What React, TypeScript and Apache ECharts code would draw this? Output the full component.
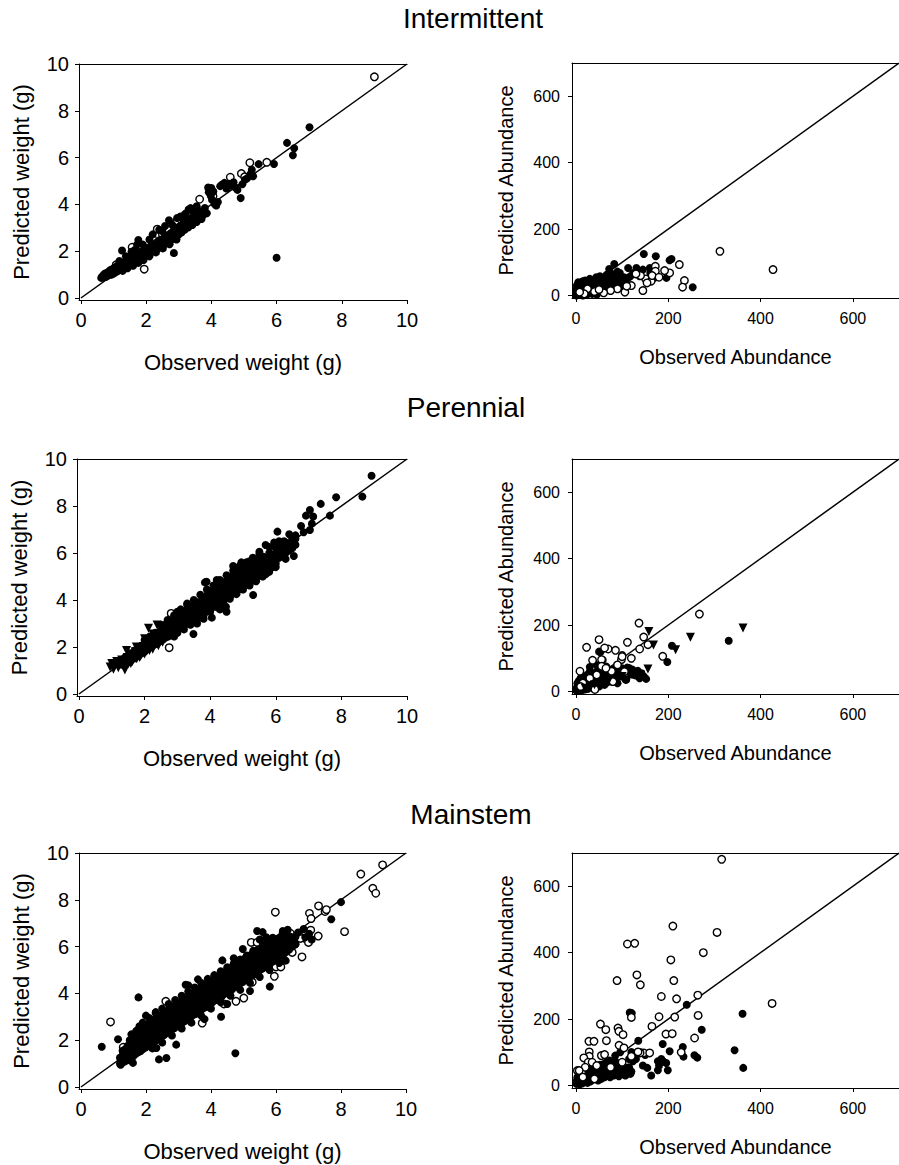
import React, { useEffect, useRef } from "react";
import * as echarts from "echarts";

const FONT = "'Liberation Sans', Arial, Helvetica, sans-serif";

type Pt = [number, number];

// ---------- tick values ----------
const weightTicks = [0, 2, 4, 6, 8, 10];
const abundTicks = [0, 200, 400, 600];

// ---------- titles / axis names ----------
const rowTitles = ["Intermittent", "Perennial", "Mainstem"];
const weightNames = ["Observed weight (g)", "Predicted weight (g)"];
const abundNames = ["Observed Abundance", "Predicted Abundance"];

// ---------- Intermittent: weight ----------
const intWeightFilled: Pt[] = [
  [0.62,0.86],[0.65,0.92],[0.68,0.87],[0.7,1.0],[0.72,0.93],[0.74,1.05],[0.76,0.9],[0.78,0.98],[0.8,1.08],[0.82,0.95],
  [0.84,1.02],[0.86,1.14],[0.88,0.99],[0.9,1.07],[0.92,1.2],[0.94,1.0],[0.96,1.12],[0.98,1.25],[1.0,1.05],[1.02,1.17],
  [1.04,1.3],[1.06,1.1],[1.08,1.22],[1.1,1.36],[1.12,1.14],[1.14,1.27],[1.16,1.42],[1.18,1.2],[1.2,1.33],[1.22,1.48],
  [1.24,1.25],[1.26,1.38],[1.28,1.16],[1.3,1.52],[1.32,1.3],[1.34,1.43],[1.37,1.58],[1.39,1.36],[1.41,1.49],[1.43,1.27],
  [1.46,1.63],[1.48,1.42],[1.5,1.55],[1.53,1.7],[1.55,1.47],[1.57,1.6],[1.6,1.38],[1.62,1.76],[1.64,1.53],[1.67,1.66],
  [1.69,1.83],[1.71,1.58],[1.74,1.72],[1.76,1.5],[1.78,1.9],[1.8,1.65],[1.83,1.79],[1.85,1.97],[1.87,1.7],[1.9,1.84],
  [1.92,1.62],[1.95,2.04],[1.97,1.78],[2.0,1.92],[2.03,2.12],[2.05,1.85],[2.08,2.0],[2.1,1.78],[2.13,2.2],[2.16,1.95],
  [2.19,2.08],[2.22,2.3],[2.24,2.02],[2.27,2.17],[2.3,1.95],[2.33,2.38],[2.36,2.12],[2.39,2.27],[2.42,2.48],[2.45,2.2],
  [2.48,2.36],[2.51,2.12],[2.54,2.57],[2.57,2.3],[2.6,2.45],[2.63,2.67],[2.66,2.4],[2.69,2.55],[2.72,2.3],[2.75,2.77],
  [2.78,2.5],[2.81,2.65],[2.84,2.88],[2.87,2.6],[2.9,2.74],[2.93,2.5],[2.96,2.97],[2.99,2.7],[3.02,2.85],[3.05,3.1],
  [3.08,2.8],[3.11,2.95],[3.14,3.2],[3.18,2.92],[3.22,3.07],[3.26,3.3],[3.3,3.02],[3.34,3.18],[3.38,3.42],[3.42,3.12],
  [3.46,3.3],[3.5,3.55],[3.55,3.25],[3.6,3.42],[3.65,3.7],[3.7,3.38],[3.75,3.55],[3.8,3.85],[3.86,3.62],[3.92,4.52],
  [3.95,4.68],[3.98,4.38],[4.02,4.2],[4.06,4.55],[4.1,4.02],[4.15,3.95],[4.2,4.1],[4.27,4.78],[4.33,4.85],[4.4,4.92],
  [4.46,4.68],[4.55,4.88],[4.62,4.8],[4.68,4.95],[4.74,4.72],[4.8,4.62],[4.9,4.27],[4.95,4.86],[5.03,5.05],[5.1,5.12],
  [5.2,5.3],[5.24,5.48],[5.28,5.2],[5.45,5.72],[5.92,5.73],[6.32,6.63],[6.54,6.4],[6.5,6.1],[7.01,7.3],[2.85,1.92],
  [6.0,1.72],[1.26,2.03],[1.76,2.48],[3.3,3.78],[3.36,3.84],[3.48,3.75],[3.62,3.72],[3.05,3.48],[2.95,3.42],[2.7,3.32],
  [2.58,3.08],[2.4,2.92],[2.2,2.72],[1.55,1.98],[1.38,1.78],[1.18,1.58],[1.72,2.28],[3.9,4.72],[4.0,4.7],
  [2.5,2.85],[2.8,3.12],[3.15,3.52],[3.45,3.62],[2.1,2.5],[1.9,2.28],[1.65,2.05],[3.55,3.92],[3.2,3.6]
];
const intWeightOpen: Pt[] = [
  [9.0,9.45],[5.7,5.8],[5.18,5.78],[4.58,5.16],[4.92,5.32],[5.02,5.18],[3.64,4.22],[3.78,3.66],[3.36,3.18],[2.74,2.49],
  [1.94,1.23],[1.57,2.17],[2.34,2.94],[2.2,2.52],[2.95,3.3],[3.12,3.45],[1.08,1.42],[1.45,1.68],[1.82,2.25],[2.5,2.7],
  [0.92,1.18],[4.05,4.35]
];

// ---------- Intermittent: abundance ----------
const intAbundFilled: Pt[] = [
  [2,5],[3,15],[4,25],[5,10],[6,30],[7,3],[8,20],[9,38],[10,12],[12,28],[13,6],[14,42],[15,18],[17,33],[18,8],[19,24],
  [20,45],[22,14],[24,30],[25,4],[27,38],[28,20],[30,50],[31,12],[33,28],[35,42],[36,18],[38,8],[40,35],[42,25],[44,55],
  [46,15],[48,40],[50,30],[52,58],[54,20],[56,45],[58,35],[60,12],[62,52],[64,28],[66,62],[68,42],[70,22],[72,80],[74,50],
  [76,32],[78,65],[80,45],[83,95],[85,28],[88,55],[90,72],[92,38],[95,60],[98,48],[100,25],[104,55],[108,40],[113,83],
  [118,58],[124,68],[131,83],[134,68],[138,58],[145,78],[147,125],[160,83],[161,68],[173,118],[170,53],[196,53],[203,106],
  [207,110],[253,25],[101,43],[113,53],[95,68],[55,53],[30,48],[16,43],[1,18],[2,30],[3,8],[5,40],[1,0],[10,2],[15,0],
  [20,2],[35,5],[45,3],[6,22],[11,35]
];
const intAbundOpen: Pt[] = [
  [312,133],[427,78],[224,93],[235,45],[231,25],[203,68],[192,75],[172,88],[172,73],[151,50],[145,15],[120,30],[106,10],
  [163,43],[154,38],[140,60],[130,65],[110,28],[90,20],[75,15],[60,8],[40,12],[25,20],[18,5],[50,18],[8,10],[165,60],[180,55]
];

// ---------- Perennial: weight ----------
// each row: observed weight, then the predicted weights seen at it
const perWeightBandRows: number[][] = [
  [1.3,1.25,1.45],[1.4,1.3,1.55],[1.5,1.42,1.62,1.35],[1.6,1.5,1.72,1.45],[1.7,1.6,1.85,1.52],[1.8,1.7,1.95,1.62],
  [1.9,1.8,2.05,1.72],[2.0,1.92,2.15,1.8,2.3],[2.08,2.0,2.22,1.9],[2.16,2.08,2.35,1.98,2.45],[2.24,2.15,2.42,2.05],
  [2.32,2.22,2.5,2.12,2.6],[2.4,2.3,2.58,2.18,2.45],[2.48,2.38,2.68,2.25,2.55],[2.56,2.45,2.75,2.32,2.6],
  [2.64,2.52,2.82,2.4,2.7,2.95],[2.72,2.62,2.9,2.45,2.78],[2.8,2.7,2.98,2.55,2.85,3.1],[2.88,2.75,3.05,2.62,2.92],
  [2.96,2.85,3.12,2.7,3.0,3.25],[3.04,2.92,3.2,2.78,3.08],[3.12,3.0,3.3,2.85,3.15,3.42],[3.2,3.08,3.38,2.92,3.22],
  [3.28,3.15,3.45,3.0,3.3,3.58],[3.36,3.22,3.52,3.08,3.38],[3.44,3.3,3.62,3.12,3.45,3.75],[3.52,3.38,3.7,3.2,3.52],
  [3.6,3.45,3.78,3.28,3.6,3.9],[3.68,3.52,3.85,3.35,3.68],[3.76,3.6,3.92,3.42,3.75,4.05],[3.84,3.68,4.0,3.48,3.82,4.75],
  [3.92,3.75,4.1,3.55,3.9,4.22],[4.0,3.82,4.18,3.62,3.98,4.35],[4.08,3.9,4.25,3.7,4.05,4.42],[4.16,3.98,4.32,3.78,4.12,4.5],
  [4.24,4.05,4.4,3.85,4.2,4.58],[4.32,4.12,4.48,3.92,4.28,4.65],[4.4,4.2,4.55,4.0,4.38,4.72],[4.48,4.28,4.62,4.08,4.45,4.8],
  [4.56,4.35,4.7,4.15,4.52,4.9],[4.64,4.42,4.78,4.22,4.6,4.98],[4.72,4.5,4.85,4.3,4.68,5.05],[4.8,4.58,4.92,4.38,4.75,5.12],
  [4.88,4.65,5.0,4.45,4.82,5.2],[4.96,4.72,5.08,4.52,4.9,5.28],[5.04,4.8,5.15,4.6,4.98,5.35],[5.12,4.88,5.22,4.68,5.05,5.42],
  [5.2,4.95,5.3,4.75,5.12,5.5],[5.28,5.02,5.38,4.82,5.2,5.58],[5.36,5.1,5.45,4.9,5.28,5.65],[5.44,5.18,5.52,5.0,5.35,5.72],
  [5.52,5.25,5.6,5.08,5.42,5.78],[5.6,5.32,5.68,5.15,5.5,5.85],[5.7,5.4,5.75,5.25,5.58],[5.8,5.5,5.85,5.35,5.68,6.0],
  [5.9,5.6,5.92,5.45,5.75],[6.0,5.7,6.0,5.55,6.2],[6.1,5.8,6.12,6.35],[6.2,5.9,6.2,6.05],[6.3,6.0,6.3,6.45],[6.4,6.1,6.4],
  [6.5,6.22,6.5,6.6],[6.6,6.35,6.62]
];
const perWeightFilledExtra: Pt[] = [
  [8.92,9.29],[8.64,8.4],[7.84,8.37],[7.37,8.09],[7.65,7.59],[7.04,7.83],[6.92,7.59],[7.14,7.55],[7.1,7.25],[6.77,7.15],
  [7.04,6.98],[6.85,6.88],[6.05,6.91],[6.41,6.8],[6.55,5.87],[5.69,6.34],[5.95,6.45],[5.31,4.21],[4.48,3.71],[4.5,3.5],
  [3.49,2.55],[3.89,4.78],[4.05,3.25],[6.5,6.2],[6.25,6.5],[6.6,6.75],[5.2,5.65],[4.95,5.6],[4.7,5.45],[5.5,6.05],
  [4.2,4.85],[3.3,3.85],[3.0,3.5],[5.9,5.4],[5.7,5.1],[4.3,3.6],[3.8,3.2],[3.6,3.0],[2.9,2.45],
  [2.5,2.95],[2.7,3.15],[2.9,3.35],[3.1,3.6],[3.3,3.8],[3.5,4.0],[3.7,4.22],[3.9,4.45],[4.1,4.62],[4.3,4.85],[4.5,5.05],
  [4.7,5.25],[4.9,5.45],[5.1,5.6],[5.3,5.8],[5.5,5.95],[5.8,6.25],[6.1,6.5],
  [3.0,2.6],[3.2,2.75],[3.4,2.95],[3.6,3.15],[3.8,3.35],[4.0,3.5],[4.2,3.7],[4.4,3.88],[4.6,4.05],[4.8,4.25],[5.0,4.45],
  [5.2,4.62],[5.4,4.8],[5.6,5.0],[5.8,5.2],[6.0,5.4],[6.3,5.75]
];
const perWeightTriangle: Pt[] = [
  [0.95,1.15],[1.0,1.3],[1.05,1.05],[1.1,1.22],[1.15,1.38],[1.2,1.12],[1.25,1.3],[1.3,1.45],[1.35,1.2],[1.4,1.02],
  [1.42,1.36],[1.47,1.55],[1.5,1.28],[1.55,1.45],[1.6,1.7],[1.63,1.38],[1.68,1.56],[1.72,1.8],[1.76,1.5],[1.8,1.66],
  [1.84,1.9],[1.88,1.62],[1.92,1.78],[1.96,2.02],[2.0,1.7],[2.04,1.88],[2.08,2.12],[2.12,2.8],[2.16,1.98],[2.2,2.25],
  [2.25,1.9],[2.3,2.1],[2.35,2.38],[2.38,2.94],[2.42,2.05],[2.46,2.25],[2.5,2.5],[2.55,2.2],[2.6,2.4],[2.65,2.62],
  [2.7,2.9],[2.8,2.55],[2.9,2.78],[1.45,1.85],[1.75,2.0],[2.0,2.35],[2.25,2.55],[1.58,1.3],[1.85,1.55],[2.15,1.85]
];
const perWeightOpen: Pt[] = [[2.81,3.43],[2.75,1.97],[4.82,5.2],[5.0,5.3]];

// ---------- Perennial: abundance ----------
const perAbundFilled: Pt[] = [
  [1,3],[2,12],[3,25],[4,8],[5,18],[6,32],[7,5],[8,22],[9,14],[10,40],[11,2],[12,28],[14,10],[15,35],[16,20],[18,45],
  [19,6],[20,30],[22,15],[24,50],[25,38],[26,8],[28,25],[30,60],[31,42],[33,18],[35,32],[37,55],[38,10],[40,38],[42,22],
  [44,48],[46,62],[48,30],[50,15],[52,45],[53,118],[55,70],[57,35],[60,52],[62,20],[64,40],[66,75],[68,28],[70,58],
  [72,45],[75,62],[77,30],[80,50],[82,68],[85,40],[88,60],[90,25],[92,55],[95,65],[98,45],[100,70],[104,60],[108,35],
  [111,72],[115,71],[118,55],[122,66],[126,50],[130,48],[134,62],[138,40],[142,55],[147,45],[152,38],[109,36],[120,51],
  [198,89],[208,138],[331,153],[30,74],[45,80],[58,95],[100,110],[50,120]
];
const perAbundTriangle: Pt[] = [
  [158,181],[168,140],[216,126],[248,163],[362,191],[156,68],[130,58],[100,45],[70,30],[40,20],[20,10],[140,50]
];
const perAbundOpen: Pt[] = [
  [267.5,233],[136.6,206],[146.7,164],[156,141],[138,128],[111.5,148],[85.6,124],[69.7,128],[62,131],[50,156],[23,133],
  [36,94],[55.5,96],[55.5,76],[8.6,61],[98.6,96],[188,106],[77,61],[41,6],[100,105],[120,100],[90,80],[65,70],[30,40],
  [15,25],[45,50],[10,15],[80,30],[105,60]
];

// ---------- Mainstem: weight ----------
const mainWeightBandRows: number[][] = [
  [1.2,1.0,1.25],[1.28,1.05,1.35,1.55],[1.36,1.1,1.42,1.62],[1.44,1.15,1.48,1.76,1.3],[1.52,1.24,1.56,1.85,1.4],
  [1.6,1.3,1.66,1.96,1.47],[1.68,1.41,1.72,2.06,1.56],[1.76,1.48,1.82,2.14,1.63,2.32],[1.84,1.54,1.9,2.26,1.72,2.42],
  [1.92,1.63,1.97,2.33,1.8,2.52],[2.0,1.7,2.06,2.4,1.87,2.62,2.22],[2.08,1.79,2.12,2.51,1.95,2.7,2.31],
  [2.16,1.84,2.21,2.57,2.03,2.79,2.4],[2.24,1.93,2.28,2.66,2.1,2.86,2.47],[2.32,2.0,2.36,2.71,2.19,2.93,2.56],
  [2.4,2.07,2.42,2.81,2.25,3.02,2.62],[2.48,2.16,2.51,2.88,2.33,3.07,2.7],[2.56,2.22,2.57,2.96,2.4,3.16,2.79],
  [2.64,2.31,2.66,3.02,2.49,3.23,2.85],[2.72,2.37,2.72,3.11,2.55,3.31,2.93],[2.8,2.46,2.81,3.17,2.62,3.38,3.0],
  [2.88,2.52,2.88,3.26,2.71,3.46,3.09],[2.96,2.61,2.95,3.32,2.78,3.53,3.15],[3.04,2.67,3.03,3.41,2.85,3.6,3.22],
  [3.12,2.76,3.1,3.48,2.93,3.69,3.3],[3.2,2.82,3.19,3.55,3.0,3.76,3.38],[3.28,2.91,3.25,3.63,3.08,3.82,3.46],
  [3.36,2.97,3.33,3.7,3.15,3.91,3.52],[3.44,3.06,3.4,3.79,3.23,3.98,3.6],[3.52,3.12,3.49,3.85,3.3,4.06,3.68],
  [3.6,3.21,3.55,3.93,3.38,4.12,3.75],[3.68,3.27,3.63,4.0,3.46,4.21,3.82],[3.76,3.36,3.7,4.09,3.52,4.28,3.9],
  [3.84,3.42,3.79,4.15,3.61,4.36,3.98],[3.92,3.51,3.85,4.23,3.68,4.42,4.05],[4.0,3.57,3.93,4.3,3.75,4.51,4.12],
  [4.08,3.66,4.0,4.39,3.83,4.58,4.2],[4.16,3.72,4.09,4.45,3.9,4.66,4.28],[4.24,3.81,4.15,4.53,3.98,4.72,4.35],
  [4.32,3.87,4.23,4.6,4.05,4.81,4.42],[4.4,3.96,4.3,4.69,4.13,4.88,4.5],[4.48,4.02,4.38,4.75,4.2,4.96,4.58],
  [4.56,4.11,4.45,4.83,4.28,5.02,4.65],[4.64,4.17,4.53,4.9,4.35,5.11,4.72],[4.72,4.26,4.6,4.98,4.43,5.18,4.8],
  [4.8,4.32,4.68,5.05,4.5,5.26,4.88],[4.88,4.41,4.75,5.13,4.58,5.32,4.95],[4.96,4.47,4.83,5.2,4.65,5.41,5.02],
  [5.04,4.56,4.9,5.28,4.73,5.48,5.1],[5.12,4.62,4.98,5.35,4.8,5.56,5.18],[5.2,4.71,5.05,5.43,4.88,5.62,5.25],
  [5.28,4.77,5.13,5.5,4.95,5.71,5.32],[5.36,4.86,5.2,5.58,5.03,5.78,5.4],[5.44,4.92,5.28,5.65,5.1,5.86],
  [5.52,5.01,5.35,5.73,5.18,5.92],[5.6,5.07,5.43,5.8,5.25,6.01],[5.7,5.16,5.5,5.88,5.33,6.08],
  [5.8,5.25,5.61,5.95,5.42,6.16],[5.9,5.36,5.7,6.06,5.52,6.22],[6.0,5.45,5.81,6.12,5.63,6.31],
  [6.1,5.56,5.9,6.21,5.72,6.38],[6.2,5.65,5.99,6.28,6.46],[6.3,5.76,6.05,6.36,6.51],[6.4,5.86,6.16,6.45],
  [6.5,6.0,6.31],[6.6,6.1,6.42]
];
const mainWeightFilledExtra: Pt[] = [
  [0.64,1.72],[1.14,2.04],[1.77,3.83],[2.4,1.18],[2.63,1.24],[4.75,1.44],[4.31,3.0],[5.81,4.29],[4.98,5.9],[4.35,5.41],
  [5.42,6.67],[5.59,6.62],[6.21,6.67],[6.36,6.72],[7.7,7.17],[8.0,7.9],[7.02,6.55],[6.68,6.6],[6.85,6.75],[1.55,2.25],
  [2.32,1.67],[2.93,1.81],[3.22,4.37],[1.22,0.95],[1.6,1.03],[6.6,6.1],[6.9,6.4],[7.1,6.3],[6.5,6.4],[5.5,6.3],
  [5.7,6.4],[4.7,5.5],[3.6,4.6],[3.3,4.35],[2.3,3.15],[2.0,3.05],[1.8,2.6],[3.8,2.9],[4.5,3.55],[5.2,4.1],[6.3,5.4],
  [1.5,2.0],[1.7,2.4],[1.9,2.75],[2.1,2.95],[2.3,3.2],[2.5,3.35],[2.7,3.55],[2.9,3.72],[3.1,3.9],[3.3,4.08],[3.5,4.25],
  [3.7,4.45],[3.9,4.62],[4.1,4.78],[4.3,4.95],[4.5,5.12],[4.7,5.28],[4.9,5.45],[5.1,5.62],[5.3,5.82],[5.6,6.15],
  [5.9,6.38],[6.2,6.55],
  [2.2,1.65],[2.5,1.9],[2.8,2.2],[3.1,2.5],[3.4,2.75],[3.7,3.05],[4.0,3.35],[4.3,3.62],[4.6,3.9],[4.9,4.15],[5.2,4.45],
  [5.5,4.7],[5.8,5.0],[6.1,5.3]
];
const mainWeightOpen: Pt[] = [
  [0.91,2.78],[5.98,7.47],[7.03,7.42],[7.31,7.74],[7.51,7.5],[7.08,7.2],[8.61,9.1],[9.28,9.49],[8.98,8.49],[9.07,8.28],
  [8.11,6.64],[6.8,5.56],[6.92,6.33],[7.3,6.45],[7.0,6.18],[5.95,4.73],[6.0,5.13],[6.15,5.13],[3.73,2.73],[2.61,3.66],
  [5.01,3.8],[4.77,3.66],[5.27,4.48],[5.24,6.18],[5.42,6.18],[6.44,6.57],[7.07,6.7],[7.55,7.58],[6.7,6.5],[5.7,5.2],
  [4.4,3.55],[1.3,1.7],[6.5,5.75],[6.2,5.55],[6.75,6.35]
];

// ---------- Mainstem: abundance ----------
const mainAbundFilled: Pt[] = [
  [1,5],[2,15],[3,25],[4,8],[5,20],[6,12],[7,30],[8,4],[9,22],[10,35],[11,14],[12,28],[13,6],[14,40],[15,18],[16,32],
  [17,10],[18,45],[19,24],[20,36],[22,15],[23,48],[24,28],[25,8],[26,38],[28,20],[29,52],[30,32],[31,12],[32,44],[34,25],
  [35,55],[36,38],[37,18],[38,48],[40,30],[42,60],[43,22],[44,42],[46,35],[47,55],[48,15],[50,48],[51,28],[52,62],[54,40],
  [55,20],[56,52],[58,32],[60,65],[61,45],[62,25],[64,55],[65,38],[66,70],[68,48],[69,30],[70,60],[72,42],[73,75],[74,25],
  [76,52],[78,38],[79,65],[80,48],[82,30],[84,58],[85,42],[86,72],[88,35],[90,55],[92,45],[93,28],[95,62],[97,40],[99,50],
  [101,35],[103,58],[105,42],[107,30],[110,48],[112,38],[115,55],[118,35],[120,42],[96,100],[85,90],
  [116.5,220],[121,218],[135,135],[240,243],[361,216],[272.5,168],[231.5,116],[233,87],[256.7,91],[263,84],[203,103],
  [188,125],[177.5,73],[195.6,68],[199,46],[177.5,46],[163,30],[154.6,53],[123.6,73],[120,101],[343.7,106],[362.5,53],
  [185,80],[180,60],[190,72],[130,80],[145,60],[140,100],[125,95],[150,92],[115,80]
];
const mainAbundOpen: Pt[] = [
  [315.7,681],[210,480],[305.7,461],[111.5,426],[127.3,428],[276,400],[205.6,378],[132,333],[139.5,303],[89,316],
  [212,316],[264,272],[185,268],[218,261],[425,247],[120,205],[180,207],[214,206],[264.7,211],[53,185],[64.7,168],
  [91,173],[93,163],[102,153],[164.6,178],[195,155],[208.6,156],[257,143],[28,133],[39,133],[66,135],[93.4,121],
  [28.8,101],[28.8,88],[17,83],[26.6,70],[146.7,98],[159.7,98],[228,100],[3,45],[104,113],[120,88],[139,98],[134.5,101],
  [12,40],[20,55],[35,70],[45,60],[55,90],[62,93],[75,55],[100,70],[7,45],[40,20],[15,25]
];

const fromRows = (rows: number[][]): Pt[] =>
  rows.flatMap((r) => r.slice(1).map((y) => [r[0], y] as Pt));

// ---------- layout (pixels) ----------
const grids = [
  { left: 79, top: 64, width: 328, height: 236 },
  { left: 572, top: 63, width: 328, height: 235 },
  { left: 77, top: 459, width: 330, height: 237 },
  { left: 572, top: 459, width: 328, height: 235 },
  { left: 79, top: 853, width: 327, height: 236 },
  { left: 572, top: 853, width: 328, height: 235 },
];
const titlePos = [
  { x: 473, y: 18 },
  { x: 466, y: 407 },
  { x: 471, y: 814 },
];

export default function App() {
  const ref = useRef<HTMLDivElement>(null);

  useEffect(() => {
    if (!ref.current) return;
    const chart = echarts.init(ref.current, undefined, { renderer: "svg" });

    const isWeight = (i: number) => i % 2 === 0;
    const xAxes: any[] = [];
    const yAxes: any[] = [];
    grids.forEach((_, i) => {
      const w = isWeight(i);
      const ticks = w ? weightTicks : abundTicks;
      const names = w ? weightNames : abundNames;
      const lbl = {
        show: true,
        customValues: ticks,
        color: "#000",
        fontSize: w ? 20 : 16,
        fontFamily: FONT,
      };
      const axisLine = { show: true, onZero: false, lineStyle: { color: "#000", width: 1 } };
      xAxes.push({
        gridIndex: i,
        type: "value",
        position: "bottom",
        min: w ? -0.06 : -8.6,
        max: w ? 10 : 700,
        axisLine,
        axisTick: { show: true, length: 4, customValues: ticks, lineStyle: { color: "#000" } },
        axisLabel: { ...lbl, margin: w ? 10 : 12 },
        splitLine: { show: false },
        name: names[0],
        nameLocation: "middle",
        nameGap: w ? 51 : 49,
        nameTextStyle: { color: "#000", fontSize: w ? 22 : 20, fontFamily: FONT },
      });
      yAxes.push({
        gridIndex: i,
        type: "value",
        position: "left",
        min: w ? -0.085 : -7.5,
        max: w ? 10 : 700,
        axisLine,
        axisTick: { show: true, length: 4, customValues: ticks, lineStyle: { color: "#000" } },
        axisLabel: { ...lbl, margin: w ? 10 : 12 },
        splitLine: { show: false },
        name: names[1],
        nameLocation: "middle",
        nameGap: w ? 47 : 56,
        nameTextStyle: { color: "#000", fontSize: w ? 22 : 20, fontFamily: FONT },
      });
    });
    // top frame lines
    grids.forEach((_, i) => {
      const w = isWeight(i);
      xAxes.push({
        gridIndex: i,
        type: "value",
        position: "top",
        min: w ? -0.06 : -8.6,
        max: w ? 10 : 700,
        axisLine: { show: true, onZero: false, lineStyle: { color: "#000", width: 1 } },
        axisTick: { show: false },
        axisLabel: { show: false },
        splitLine: { show: false },
      });
    });

    const filled = (i: number, data: Pt[]) => ({
      type: "scatter",
      xAxisIndex: i,
      yAxisIndex: i,
      data,
      symbol: "circle",
      symbolSize: 8,
      itemStyle: { color: "#000", opacity: 1 },
      silent: true,
    });
    const open = (i: number, data: Pt[]) => ({
      type: "scatter",
      xAxisIndex: i,
      yAxisIndex: i,
      data,
      symbol: "circle",
      symbolSize: 7.5,
      itemStyle: { color: "#fff", borderColor: "#000", borderWidth: 1.4, opacity: 1 },
      silent: true,
    });
    const tri = (i: number, data: Pt[]) => ({
      type: "scatter",
      xAxisIndex: i,
      yAxisIndex: i,
      data,
      symbol: "triangle",
      symbolRotate: 180,
      symbolSize: 9,
      itemStyle: { color: "#000", opacity: 1 },
      silent: true,
    });
    const diag = (i: number) => {
      const m = isWeight(i) ? 10 : 700;
      return {
        type: "line",
        xAxisIndex: i,
        yAxisIndex: i,
        data: [[0, 0], [m, m]],
        symbol: "none",
        lineStyle: { color: "#000", width: 1.5 },
        silent: true,
        z: 1,
      };
    };

    const series: any[] = [
      diag(0), open(0, intWeightOpen), filled(0, intWeightFilled),
      diag(1), filled(1, intAbundFilled), open(1, intAbundOpen),
      diag(2), open(2, perWeightOpen), filled(2, [...fromRows(perWeightBandRows), ...perWeightFilledExtra]), tri(2, perWeightTriangle),
      diag(3), filled(3, perAbundFilled), open(3, perAbundOpen), tri(3, perAbundTriangle),
      diag(4), open(4, mainWeightOpen), filled(4, [...fromRows(mainWeightBandRows), ...mainWeightFilledExtra]),
      diag(5), filled(5, mainAbundFilled), open(5, mainAbundOpen),
    ];

    chart.setOption({
      animation: false,
      backgroundColor: "#fff",
      grid: grids.map((g) => ({ ...g, containLabel: false })),
      xAxis: xAxes,
      yAxis: yAxes,
      series,
      graphic: rowTitles.map((t, k) => ({
        type: "text",
        x: titlePos[k].x,
        y: titlePos[k].y,
        style: {
          text: t,
          fontSize: 28,
          fontFamily: FONT,
          fill: "#000",
          align: "center",
          verticalAlign: "middle",
        },
      })),
    });

    return () => chart.dispose();
  }, []);

  return (
    <div
      ref={ref}
      style={{ position: "absolute", left: 0, top: 0, width: 899, height: 1165, background: "#fff" }}
    />
  );
}
